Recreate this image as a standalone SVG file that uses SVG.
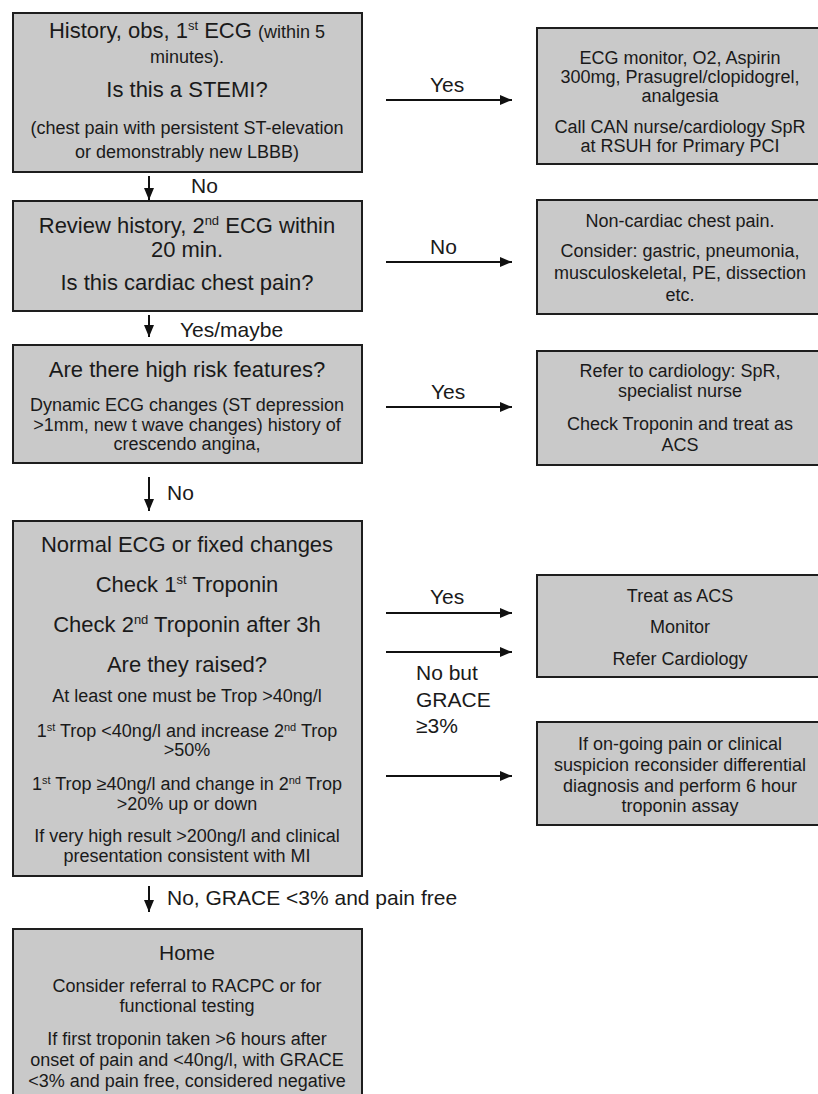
<svg xmlns="http://www.w3.org/2000/svg" width="818" height="1094" viewBox="0 0 818 1094">
<style>
.box{fill:#c9c9c9;stroke:#1e1e1e;stroke-width:2}
.t{font-family:"Liberation Sans",Arial,sans-serif;fill:#1a1a1a;text-anchor:middle}
.L{font-size:22px}
.S{font-size:18px}
.lab{font-family:"Liberation Sans",Arial,sans-serif;fill:#1a1a1a;font-size:21px}
.conn line{stroke:#111;stroke-width:2;fill:none}
</style>
<defs>
<marker id="ah" viewBox="0 0 12 10" refX="12" refY="5" markerWidth="12" markerHeight="10" markerUnits="userSpaceOnUse" orient="auto">
<path d="M0,0 L12,5 L0,10 z" fill="#111"/>
</marker>
</defs>
<rect width="818" height="1094" fill="#ffffff"/>

<g id="n1">
<rect class="box" x="13" y="13" width="349" height="159"/>
<text class="t L" x="187" y="38">History, obs, 1<tspan font-size="13" dy="-8">st</tspan><tspan dy="8"> ECG </tspan><tspan font-size="18">(within 5</tspan></text>
<text class="t S" x="187" y="63">minutes).</text>
<text class="t L" x="187" y="97">Is this a STEMI?</text>
<text class="t S" x="187" y="134">(chest pain with persistent ST-elevation</text>
<text class="t S" x="187" y="158">or demonstrably new LBBB)</text>
</g>

<g id="r1">
<rect class="box" x="537" y="28" width="290" height="136"/>
<text class="t S" x="680" y="64">ECG monitor, O2, Aspirin</text>
<text class="t S" x="680" y="83">300mg, Prasugrel/clopidogrel,</text>
<text class="t S" x="680" y="102">analgesia</text>
<text class="t S" x="680" y="133">Call CAN nurse/cardiology SpR</text>
<text class="t S" x="680" y="152">at RSUH for Primary PCI</text>
</g>

<g id="n2">
<rect class="box" x="13" y="201" width="349" height="110"/>
<text class="t L" x="187" y="233">Review history, 2<tspan font-size="13" dy="-8">nd</tspan><tspan dy="8"> ECG within</tspan></text>
<text class="t L" x="187" y="257">20 min.</text>
<text class="t L" x="187" y="290">Is this cardiac chest pain?</text>
</g>

<g id="r2">
<rect class="box" x="537" y="200" width="290" height="114"/>
<text class="t S" x="680" y="227">Non-cardiac chest pain.</text>
<text class="t S" x="680" y="257">Consider: gastric, pneumonia,</text>
<text class="t S" x="680" y="279">musculoskeletal, PE, dissection</text>
<text class="t S" x="680" y="301">etc.</text>
</g>

<g id="n3">
<rect class="box" x="13" y="345" width="349" height="118"/>
<text class="t L" x="187" y="377">Are there high risk features?</text>
<text class="t S" x="187" y="411">Dynamic ECG changes (ST depression</text>
<text class="t S" x="187" y="431">&gt;1mm, new t wave changes) history of</text>
<text class="t S" x="187" y="450">crescendo angina,</text>
</g>

<g id="r3">
<rect class="box" x="537" y="351" width="290" height="114"/>
<text class="t S" x="680" y="377">Refer to cardiology: SpR,</text>
<text class="t S" x="680" y="397">specialist nurse</text>
<text class="t S" x="680" y="430">Check Troponin and treat as</text>
<text class="t S" x="680" y="451">ACS</text>
</g>

<g id="n4">
<rect class="box" x="13" y="521" width="349" height="355"/>
<text class="t L" x="187" y="552">Normal ECG or fixed changes</text>
<text class="t L" x="187" y="592">Check 1<tspan font-size="13" dy="-8">st</tspan><tspan dy="8"> Troponin</tspan></text>
<text class="t L" x="187" y="632">Check 2<tspan font-size="13" dy="-8">nd</tspan><tspan dy="8"> Troponin after 3h</tspan></text>
<text class="t L" x="187" y="672">Are they raised?</text>
<text class="t S" x="187" y="702">At least one must be Trop &gt;40ng/l</text>
<text class="t S" x="187" y="737">1<tspan font-size="11" dy="-6">st</tspan><tspan dy="6"> Trop &lt;40ng/l and increase 2</tspan><tspan font-size="11" dy="-6">nd</tspan><tspan dy="6"> Trop</tspan></text>
<text class="t S" x="187" y="756">&gt;50%</text>
<text class="t S" x="187" y="790">1<tspan font-size="11" dy="-6">st</tspan><tspan dy="6"> Trop ≥40ng/l and change in 2</tspan><tspan font-size="11" dy="-6">nd</tspan><tspan dy="6"> Trop</tspan></text>
<text class="t S" x="187" y="810">&gt;20% up or down</text>
<text class="t S" x="187" y="842">If very high result &gt;200ng/l and clinical</text>
<text class="t S" x="187" y="862">presentation consistent with MI</text>
</g>

<g id="r4a">
<rect class="box" x="537" y="575" width="290" height="102"/>
<text class="t S" x="680" y="602">Treat as ACS</text>
<text class="t S" x="680" y="633">Monitor</text>
<text class="t S" x="680" y="665">Refer Cardiology</text>
</g>

<g id="r4b">
<rect class="box" x="537" y="722" width="290" height="103"/>
<text class="t S" x="680" y="750">If on-going pain or clinical</text>
<text class="t S" x="680" y="771">suspicion reconsider differential</text>
<text class="t S" x="680" y="792">diagnosis and perform 6 hour</text>
<text class="t S" x="680" y="812">troponin assay</text>
</g>

<g id="n5">
<rect class="box" x="13" y="929" width="349" height="180"/>
<text class="t" font-size="21" x="187" y="960">Home</text>
<text class="t S" x="187" y="992">Consider referral to RACPC or for</text>
<text class="t S" x="187" y="1012">functional testing</text>
<text class="t S" x="187" y="1045">If first troponin taken &gt;6 hours after</text>
<text class="t S" x="187" y="1066">onset of pain and &lt;40ng/l, with GRACE</text>
<text class="t S" x="187" y="1087">&lt;3% and pain free, considered negative</text>
</g>

<g id="connectors" class="conn">
<line x1="386" y1="100" x2="512" y2="100" marker-end="url(#ah)"/>
<line x1="386" y1="262" x2="512" y2="262" marker-end="url(#ah)"/>
<line x1="386" y1="407" x2="512" y2="407" marker-end="url(#ah)"/>
<line x1="386" y1="613" x2="512" y2="613" marker-end="url(#ah)"/>
<line x1="386" y1="652" x2="512" y2="652" marker-end="url(#ah)"/>
<line x1="386" y1="776" x2="512" y2="776" marker-end="url(#ah)"/>
<line x1="149" y1="176" x2="149" y2="200" marker-end="url(#ah)"/>
<line x1="149" y1="315" x2="149" y2="337" marker-end="url(#ah)"/>
<line x1="149" y1="477" x2="149" y2="511" marker-end="url(#ah)"/>
<line x1="149" y1="886" x2="149" y2="912" marker-end="url(#ah)"/>
</g>

<g id="labels">
<text class="lab" x="430" y="92">Yes</text>
<text class="lab" x="430" y="254">No</text>
<text class="lab" x="431" y="399">Yes</text>
<text class="lab" x="430" y="604">Yes</text>
<text class="lab" x="416" y="680">No but</text>
<text class="lab" x="416" y="707">GRACE</text>
<text class="lab" x="416" y="733">≥3%</text>
<text class="lab" x="191" y="193">No</text>
<text class="lab" x="180" y="337">Yes/maybe</text>
<text class="lab" x="167" y="500">No</text>
<text class="lab" x="167" y="905">No, GRACE &lt;3% and pain free</text>
</g>
</svg>
